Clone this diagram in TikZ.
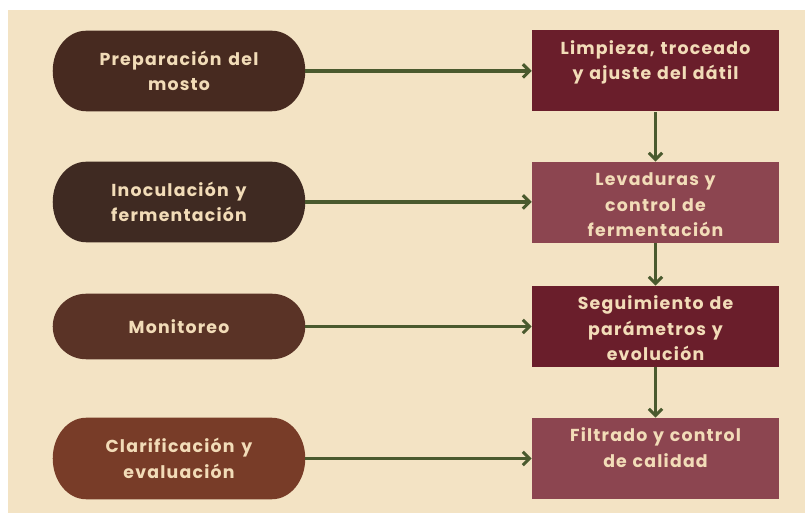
\documentclass[tikz,border=0pt]{standalone}
\usepackage{fontspec}
\setmainfont{Poppins}[WordSpace=1.4]
\usetikzlibrary{arrows.meta,calc,backgrounds}
\definecolor{bgbeige}{HTML}{F3E3C4}
\definecolor{pillA}{HTML}{472A20}
\definecolor{pillB}{HTML}{3F2A22}
\definecolor{pillC}{HTML}{5A3326}
\definecolor{pillD}{HTML}{783C28}
\definecolor{boxdark}{HTML}{6A1E2B}
\definecolor{boxlight}{HTML}{8C4550}
\definecolor{arrowgreen}{HTML}{4A5A2E}
\definecolor{txt}{HTML}{F2DCB8}
\tikzset{
  x=0.75pt, y=0.75pt,
  lbl/.style={text=txt, font=\bfseries\fontsize{13}{19}\selectfont\addfontfeatures{LetterSpace=7}, align=center, inner sep=0pt},
  pillnode/.style={lbl, minimum width=189pt, minimum height=#1},
  stepbox/.style={fill=#1, minimum width=185.25pt, minimum height=60.75pt, inner sep=0pt},
  boxtext/.style={lbl, anchor=north, text width=182pt, execute at begin node={\rule{0pt}{17.8pt}}},
  conn/.style={draw=arrowgreen, line width=2.3pt, -{Straight Barb[length=5pt,width=10pt,line width=2.3pt]}}
}
\begin{document}
\begin{tikzpicture}
\useasboundingbox (0,0) rectangle (805,513);
% pills (y up: Y = 513 - y)
\node[pillnode=60pt] (p1) at (179,442) {Preparación del\\mosto};
\node[pillnode=60pt] (p2) at (179,311) {Inoculación y\\fermentación};
\node[pillnode=48.75pt] (p3) at (179,186.5) {Monitoreo};
\node[pillnode=60.75pt] (p4) at (179,54.5) {Clarificación y\\evaluación};
% boxes
\node[stepbox=boxdark] (b1) at (655.5,442) {};
\node[stepbox=boxlight] (b2) at (655.5,310.5) {};
\node[stepbox=boxdark] (b3) at (655.5,186.5) {};
\node[stepbox=boxlight] (b4) at (655.5,54.5) {};
\node[boxtext] (t1) at (b1.north) {Limpieza, troceado\\y ajuste del dátil};
\node[boxtext] (t2) at (b2.north) {Levaduras y\\control de\\fermentación};
\node[boxtext] (t3) at (b3.north) {Seguimiento de\\parámetros y\\evolución};
\node[boxtext] (t4) at (b4.north) {Filtrado y control\\de calidad};
% connectors
\draw[conn] (p1.east) -- (b1.west);
\draw[conn] (p2.east) -- (p2.east -| b2.west);
\draw[conn] (p3.east) -- (b3.west);
\draw[conn] (p4.east) -- (b4.west);
\draw[conn] (b1.south) -- (b2.north);
\draw[conn] (b2.south) -- (b3.north);
\draw[conn] (b3.south) -- (b4.north);
\begin{scope}[on background layer]
  \fill[white] (0,0) rectangle (805,513);
  \fill[bgbeige] (8,0) rectangle (805,503);
  \foreach \nm/\cl in {p1/pillA,p2/pillB,p3/pillC,p4/pillD}{
    \fill[\cl] let \p1=(\nm.north west), \p2=(\nm.south east), \n1={(\y1-\y2)/2} in
      (\x1+25pt,\y1) -- (\x2-25pt,\y1)
      arc[start angle=90,end angle=-90,x radius=25pt,y radius=\n1]
      -- (\x1+25pt,\y2)
      arc[start angle=270,end angle=90,x radius=25pt,y radius=\n1] -- cycle;
  }
\end{scope}
\end{tikzpicture}
\end{document}
